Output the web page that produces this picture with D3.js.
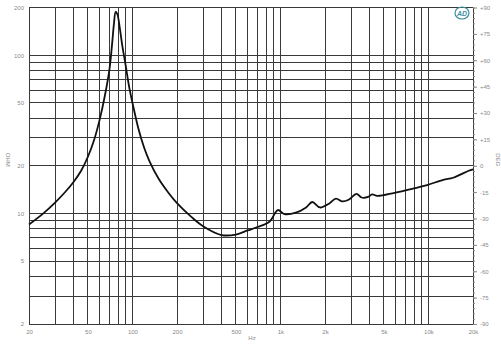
<!DOCTYPE html>
<html>
<head>
<meta charset="utf-8">
<script src="https://cdn.jsdelivr.net/npm/d3@7"></script>
<style>
  body { margin: 0; background: #fff; }
  svg { display: block; font-family: "Liberation Sans", Arial, sans-serif; }
</style>
</head>
<body>
<div id="chart"></div>
<script>
// impedance curve (Hz, ohm)
const freqs = [20, 25, 30, 35, 40, 45, 50, 55, 60, 65, 70, 73, 75, 77, 79, 82, 85, 90, 95, 100, 110, 120, 130, 150, 175, 200, 250, 300, 400, 500, 600, 700, 842, 960, 1066, 1270, 1490, 1640, 1850, 2150, 2370, 2620, 2890, 3270, 3530, 3910, 4160, 4510, 5900, 7980, 9800, 12600, 14700, 18700, 20000];
const ohms = [8.5, 10, 11.7, 13.6, 15.8, 18.6, 22.8, 29, 39, 55, 82, 120, 158, 188, 182, 150, 118, 86, 63, 50, 34, 26, 21.5, 16.6, 13.5, 11.6, 9.5, 8.3, 7.3, 7.35, 7.8, 8.2, 8.85, 10.5, 9.9, 10.1, 10.9, 11.8, 10.9, 11.6, 12.4, 11.9, 12.2, 13.3, 12.6, 12.7, 13.2, 12.9, 13.5, 14.4, 15.1, 16.3, 16.8, 18.6, 19];

const xTickLabels = ['20', '50', '100', '200', '500', '1k', '2k', '5k', '10k', '20k'];
const xTickValues = [20, 50, 100, 200, 500, 1000, 2000, 5000, 10000, 20000];
const yTickValues = [2, 5, 10, 20, 50, 100, 200];
const phaseTicks = [90, 75, 60, 45, 30, 15, 0, -15, -30, -45, -60, -75, -90];

const WIDTH = 501;
const HEIGHT = 350;
const LEFT = 29;
const RIGHT = 473;
const TOP = 7.5;
const BOTTOM = 324;

const svg = d3.select('#chart').append('svg').attr('width', WIDTH).attr('height', HEIGHT);

const xScale = d3.scaleLog().domain([20, 20000]).range([LEFT, RIGHT]);
const yScale = d3.scaleLog().domain([2, 200]).range([BOTTOM, TOP]);
const phaseScale = d3.scaleLinear().domain([-90, 90]).range([BOTTOM, TOP]);

// grid lines at every 1..9 of each decade
const vLines = [];
[10, 100, 1000, 10000].forEach((d) => {
  for (let k = 1; k < 10; k++) {
    const f = d * k;
    if (f >= 20 && f <= 20000) vLines.push(f);
  }
});
const hLines = [];
[1, 10, 100].forEach((d) => {
  for (let k = 1; k < 10; k++) {
    const v = d * k;
    if (v >= 2 && v <= 200) hLines.push(v);
  }
});

const grid = svg.append('g').attr('stroke', '#3a3a3a').attr('stroke-width', 1).attr('shape-rendering', 'crispEdges');
grid.selectAll('line.v').data(vLines).join('line')
  .attr('class', 'v')
  .attr('x1', (d) => xScale(d)).attr('x2', (d) => xScale(d))
  .attr('y1', TOP).attr('y2', BOTTOM);
grid.selectAll('line.h').data(hLines).join('line')
  .attr('class', 'h')
  .attr('x1', LEFT).attr('x2', RIGHT)
  .attr('y1', (d) => yScale(d)).attr('y2', (d) => yScale(d));

// axes
const axisBottom = d3.axisBottom(xScale).tickValues(xTickValues).tickSize(0)
  .tickFormat((d, i) => xTickLabels[i]);
const axisLeft = d3.axisLeft(yScale).tickValues(yTickValues).tickSize(0).tickFormat(d3.format('d'));
const axisRight = d3.axisRight(phaseScale).tickValues(phaseTicks).tickSize(4)
  .tickFormat((d) => (d > 0 ? '+' + d : d < 0 ? '-' + Math.abs(d) : '0'));
const axisRightMinor = d3.axisRight(phaseScale).tickValues(d3.range(-90, 91, 3)).tickSize(2).tickFormat('');

const styleAxis = (g) => {
  g.select('.domain').remove();
  g.selectAll('text').attr('fill', '#8a8a8a').style('font-size', '6px');
  g.selectAll('line').attr('stroke', '#888');
};

svg.append('g').attr('transform', `translate(0, ${BOTTOM + 3})`).call(axisBottom).call(styleAxis);
svg.append('g').attr('transform', `translate(${LEFT - 2}, 0)`).call(axisLeft).call(styleAxis);
svg.append('g').attr('transform', `translate(${RIGHT}, 0)`).call(axisRightMinor).call(styleAxis);
svg.append('g').attr('transform', `translate(${RIGHT}, 0)`).call(axisRight).call(styleAxis);

// axis titles
svg.append('text').attr('x', (LEFT + RIGHT) / 2 + 1).attr('y', 340).attr('text-anchor', 'middle')
  .attr('fill', '#8a8a8a').style('font-size', '6px').text('Hz');
svg.append('text').attr('transform', `translate(6, ${yScale(20) - 6}) rotate(90)`).attr('text-anchor', 'middle')
  .attr('fill', '#8a8a8a').style('font-size', '6px').text('OHM');
svg.append('text').attr('transform', `translate(496, ${phaseScale(0) - 6}) rotate(90)`).attr('text-anchor', 'middle')
  .attr('fill', '#8a8a8a').style('font-size', '6px').text('DEG');

// impedance curve
const line = d3.line()
  .x((d, i) => xScale(freqs[i]))
  .y((d) => yScale(d))
  .curve(d3.curveCatmullRom.alpha(0.5));
svg.append('path').datum(ohms)
  .attr('d', line)
  .attr('fill', 'none')
  .attr('stroke', '#111')
  .attr('stroke-width', 1.8);

// logo
const logo = svg.append('g').attr('transform', 'translate(462, 13)');
logo.append('ellipse').attr('rx', 7).attr('ry', 6).attr('fill', 'none').attr('stroke', '#3d8f9c').attr('stroke-width', 1.2);
logo.append('text').attr('y', 2.5).attr('text-anchor', 'middle').attr('fill', '#3d8f9c')
  .style('font-size', '7px').style('font-style', 'italic').style('font-weight', 'bold').text('AD');
</script>
</body>
</html>
